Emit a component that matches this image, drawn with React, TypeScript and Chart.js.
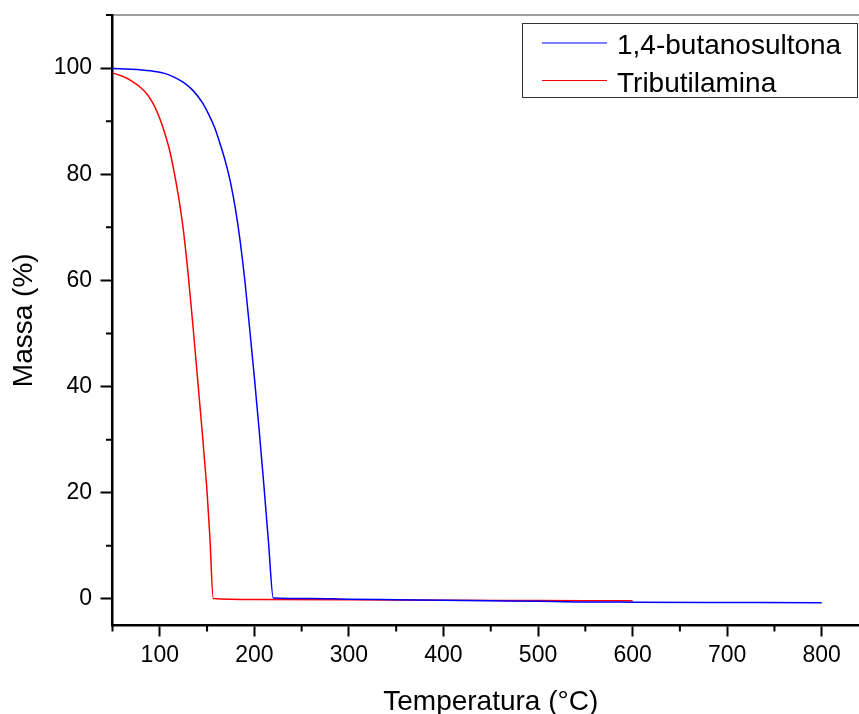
import React, { useEffect, useRef } from "react";
import { Chart, registerables } from "chart.js";

Chart.register(...registerables);

const xMajorTicks = [100, 200, 300, 400, 500, 600, 700, 800];
const xMinorTicks = [50, 150, 250, 350, 450, 550, 650, 750];
const yMajorTicks = [0, 20, 40, 60, 80, 100];
const yMinorTicks = [10, 30, 50, 70, 90, 110];

const xAxisTitle = "Temperatura (°C)";
const yAxisTitle = "Massa (%)";
const seriesLabels = ["1,4-butanosultona", "Tributilamina"];
const seriesColors = ["#0000ff", "#ff0000"];

const butanosultonaTemp = [50, 70, 90, 105, 115, 125, 135, 145, 152, 158, 164, 170, 175, 180, 185, 190, 195, 200, 205, 210, 215, 220, 260, 300, 350, 400, 450, 500, 540, 600, 680, 800];
const butanosultonaMass = [99.9, 99.8, 99.5, 99.0, 98.3, 97.3, 95.8, 93.5, 91.2, 88.8, 85.6, 82.0, 78.3, 73.5, 67.4, 59.9, 51.0, 41.8, 32.0, 21.6, 10.6, 0.2, 0.1, -0.05, -0.15, -0.25, -0.35, -0.45, -0.55, -0.6, -0.65, -0.7];

const tributilaminaTemp = [50, 60, 70, 80, 85, 90, 95, 100, 105, 110, 115, 120, 125, 130, 135, 140, 145, 147, 150, 153, 156.5, 200, 300, 400, 500, 600];
const tributilaminaMass = [99.1, 98.5, 97.6, 96.3, 95.4, 94.2, 92.6, 90.5, 87.9, 84.8, 80.6, 75.6, 69.4, 61.2, 51.6, 41.4, 31.2, 26.8, 20.2, 11.6, 0.1, -0.1, -0.15, -0.25, -0.3, -0.35];

const FONT = "'Liberation Sans', Arial, Helvetica, sans-serif";

const framePlugin = {
  id: "frameAndLegend",
  afterDraw(chart: any) {
    const { ctx, chartArea: a, scales } = chart;
    ctx.save();
    // top & right frame
    ctx.strokeStyle = "#444";
    ctx.lineWidth = 1.2;
    ctx.beginPath();
    ctx.moveTo(a.left, a.top);
    ctx.lineTo(a.right, a.top);
    ctx.lineTo(a.right, a.bottom);
    ctx.stroke();
    // minor ticks
    ctx.strokeStyle = "#000";
    ctx.lineWidth = 2;
    ctx.beginPath();
    xMinorTicks.forEach((v) => {
      const px = scales.x.getPixelForValue(v);
      ctx.moveTo(px, a.bottom);
      ctx.lineTo(px, a.bottom + 6);
    });
    yMinorTicks.forEach((v) => {
      const py = scales.y.getPixelForValue(v);
      ctx.moveTo(a.left, py);
      ctx.lineTo(a.left - 6.5, py);
    });
    ctx.stroke();
    // legend
    const boxLeft = a.left + 410;
    const boxTop = a.top + 8.5;
    const boxRight = a.right - 11.5;
    const boxBottom = a.top + 82.5;
    ctx.fillStyle = "#fff";
    ctx.fillRect(boxLeft, boxTop, boxRight - boxLeft, boxBottom - boxTop);
    ctx.strokeStyle = "#333";
    ctx.lineWidth = 1;
    ctx.strokeRect(boxLeft, boxTop, boxRight - boxLeft, boxBottom - boxTop);
    const rows = [a.top + 28.5, a.top + 66];
    chart.data.datasets.forEach((ds: any, i: number) => {
      const y = rows[i];
      ctx.strokeStyle = ds.borderColor;
      ctx.lineWidth = 1.2;
      ctx.beginPath();
      ctx.moveTo(boxLeft + 19.5, y - 0.5);
      ctx.lineTo(boxLeft + 84.5, y - 0.5);
      ctx.stroke();
      ctx.fillStyle = "#000";
      ctx.font = `28px ${FONT}`;
      ctx.textAlign = "left";
      ctx.textBaseline = "alphabetic";
      ctx.fillText(ds.label, boxLeft + 94.5, y + 10.5);
    });
    ctx.restore();
  },
};

export default function App() {
  const ref = useRef<HTMLCanvasElement | null>(null);

  useEffect(() => {
    if (!ref.current) return;
    const toPoints = (xs: number[], ys: number[]) => xs.map((x, i) => ({ x, y: ys[i] }));
    const chart = new Chart(ref.current, {
      type: "line",
      data: {
        datasets: [
          {
            label: seriesLabels[0],
            data: toPoints(butanosultonaTemp, butanosultonaMass),
            borderColor: seriesColors[0],
            borderWidth: 1.5,
            pointRadius: 0,
            fill: false,
            cubicInterpolationMode: "monotone",
          },
          {
            label: seriesLabels[1],
            data: toPoints(tributilaminaTemp, tributilaminaMass),
            borderColor: seriesColors[1],
            borderWidth: 1.5,
            pointRadius: 0,
            fill: false,
            cubicInterpolationMode: "monotone",
          },
        ],
      },
      options: {
        responsive: false,
        animation: false,
        events: [],
        layout: { padding: { left: 0, top: 15, right: 31, bottom: 0 } },
        plugins: { legend: { display: false }, tooltip: { enabled: false }, title: { display: false } },
        scales: {
          x: {
            type: "linear",
            min: 50,
            max: 850,
            afterBuildTicks: (scale: any) => {
              scale.ticks = xMajorTicks.map((v) => ({ value: v }));
            },
            afterFit: (scale: any) => {
              scale.height = 88.5;
              scale.paddingLeft = 0;
              scale.paddingRight = 0;
            },
            grid: { drawOnChartArea: false, drawTicks: true, tickLength: 11, tickWidth: 2, tickColor: "#000" },
            border: { display: true, color: "#000", width: 2.5 },
            ticks: {
              color: "#000",
              padding: 5,
              autoSkip: false,
              maxRotation: 0,
              font: { size: 23, family: FONT },
              callback: (v: any) => String(v),
            },
            title: {
              display: true,
              text: xAxisTitle,
              color: "#000",
              padding: 0,
              font: { size: 28, family: FONT, lineHeight: 0.86 },
            },
          },
          y: {
            type: "linear",
            min: -5,
            max: 110,
            afterBuildTicks: (scale: any) => {
              scale.ticks = yMajorTicks.map((v) => ({ value: v }));
            },
            afterFit: (scale: any) => {
              scale.width = 112.5;
              scale.paddingTop = 0;
              scale.paddingBottom = 0;
            },
            grid: { drawOnChartArea: false, drawTicks: true, tickLength: 12, tickWidth: 2, tickColor: "#000" },
            border: { display: true, color: "#000", width: 2.5 },
            ticks: {
              color: "#000",
              padding: 8.5,
              autoSkip: false,
              font: { size: 23, family: FONT },
              callback: (v: any) => String(v),
            },
            title: {
              display: true,
              text: yAxisTitle,
              color: "#000",
              padding: { top: 7, bottom: 0 },
              font: { size: 28, family: FONT, lineHeight: 1.2 },
            },
          },
        },
      },
      plugins: [framePlugin],
    } as any);
    return () => chart.destroy();
  }, []);

  return (
    <div style={{ position: "fixed", left: 0, top: 0, width: 859, height: 714, overflow: "hidden", background: "#fff" }}>
      <canvas ref={ref} width={900} height={714} style={{ width: 900, height: 714, display: "block" }} />
    </div>
  );
}
